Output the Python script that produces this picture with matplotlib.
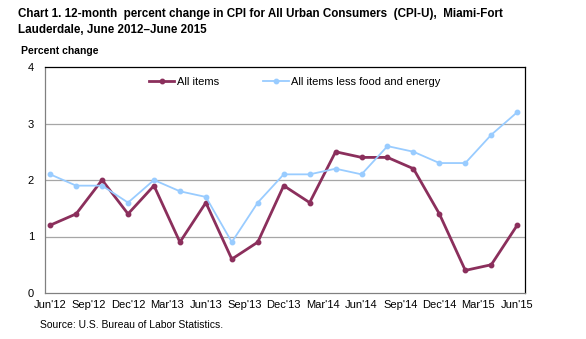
import matplotlib
matplotlib.use("Agg")
import matplotlib.pyplot as plt
from matplotlib import font_manager

plt.rcParams['font.family'] = ['Liberation Sans', 'DejaVu Sans']
names = sorted({f.name for f in font_manager.fontManager.ttflist})
narrow = 'Liberation Sans Narrow' if 'Liberation Sans Narrow' in names else None

# months since Jun 2012 (bimonthly data)
months = [0, 2, 4, 6, 8, 10, 12, 14, 16, 18, 20, 22, 24, 26, 28, 30, 32, 34, 36]
all_items = [1.2, 1.4, 2.0, 1.4, 1.9, 0.9, 1.6, 0.6, 0.9, 1.9, 1.6, 2.5, 2.4, 2.4, 2.2, 1.4, 0.4, 0.5, 1.2]
core = [2.1, 1.9, 1.9, 1.6, 2.0, 1.8, 1.7, 0.9, 1.6, 2.1, 2.1, 2.2, 2.1, 2.6, 2.5, 2.3, 2.3, 2.8, 3.2]
tick_pos = [0, 3, 6, 9, 12, 15, 18, 21, 24, 27, 30, 33, 36]
tick_labels = ["Jun'12", "Sep'12", "Dec'12", "Mar'13", "Jun'13", "Sep'13", "Dec'13",
               "Mar'14", "Jun'14", "Sep'14", "Dec'14", "Mar'15", "Jun'15"]
yticks = [0, 1, 2, 3, 4]

fig = plt.figure(figsize=(5.86, 3.39), dpi=100)
ax = fig.add_axes([45/586, 1-293/339, (525-45)/586, (293-67)/339])

ax.plot(months, all_items, color='#8B2F5C', lw=2.0, marker='o', ms=3.2, label='All items', zorder=3)
ax.plot(months, core, color='#99CCFF', lw=1.3, marker='o', ms=3.2, label='All items less food and energy', zorder=3)

ax.set_xlim(-0.4, 36.6)
ax.set_ylim(0, 4)
ax.set_yticks(yticks)
ax.set_yticklabels([str(v) for v in yticks])
ax.set_xticks(tick_pos)
ax.set_xticklabels(tick_labels)
ax.tick_params(axis='both', length=0, labelsize=8, colors='black')
ax.tick_params(axis='y', pad=8)
ax.tick_params(axis='x', pad=5)
for y in [1, 2, 3]:
    ax.axhline(y, color='#A6A6A6', lw=0.9, zorder=1)
for s in ['left', 'bottom']:
    ax.spines[s].set_color('#808080')
for s in ['top', 'right']:
    ax.spines[s].set_color('black')
for s in ax.spines.values():
    s.set_linewidth(0.9)

ax.legend(loc='upper center', bbox_to_anchor=(0.52, 1.0), ncol=2, frameon=False,
          fontsize=8, handlelength=2.3, columnspacing=4.0, handletextpad=0.2)

title_kw = dict(fontsize=10.5, fontweight='bold', va='center', ha='left')
if narrow:
    title_kw['family'] = [narrow, 'Liberation Sans']
else:
    title_kw['fontsize'] = 9
t1 = fig.text(18/586, 1-14/339, "Chart 1. 12-month  percent change in CPI for All Urban Consumers  (CPI-U),  Miami-Fort", **title_kw)
fig.text(18/586, 1-30/339, "Lauderdale, June 2012\u2013June 2015", **title_kw)
fig.text(21/586, 1-51/339, "Percent change", fontsize=7.5, fontweight='bold', va='center', ha='left')
fig.text(40/586, 1-325/339, "Source: U.S. Bureau of Labor Statistics.", fontsize=7.5, va='center', ha='left')

fig.canvas.draw()
bb = t1.get_window_extent()
target = 500 - 18
scale = target / bb.width
if abs(scale - 1) > 0.02:
    for t in fig.texts[:2]:
        t.set_fontsize(t.get_fontsize() * scale)

fig.savefig('out.png', dpi=100)
